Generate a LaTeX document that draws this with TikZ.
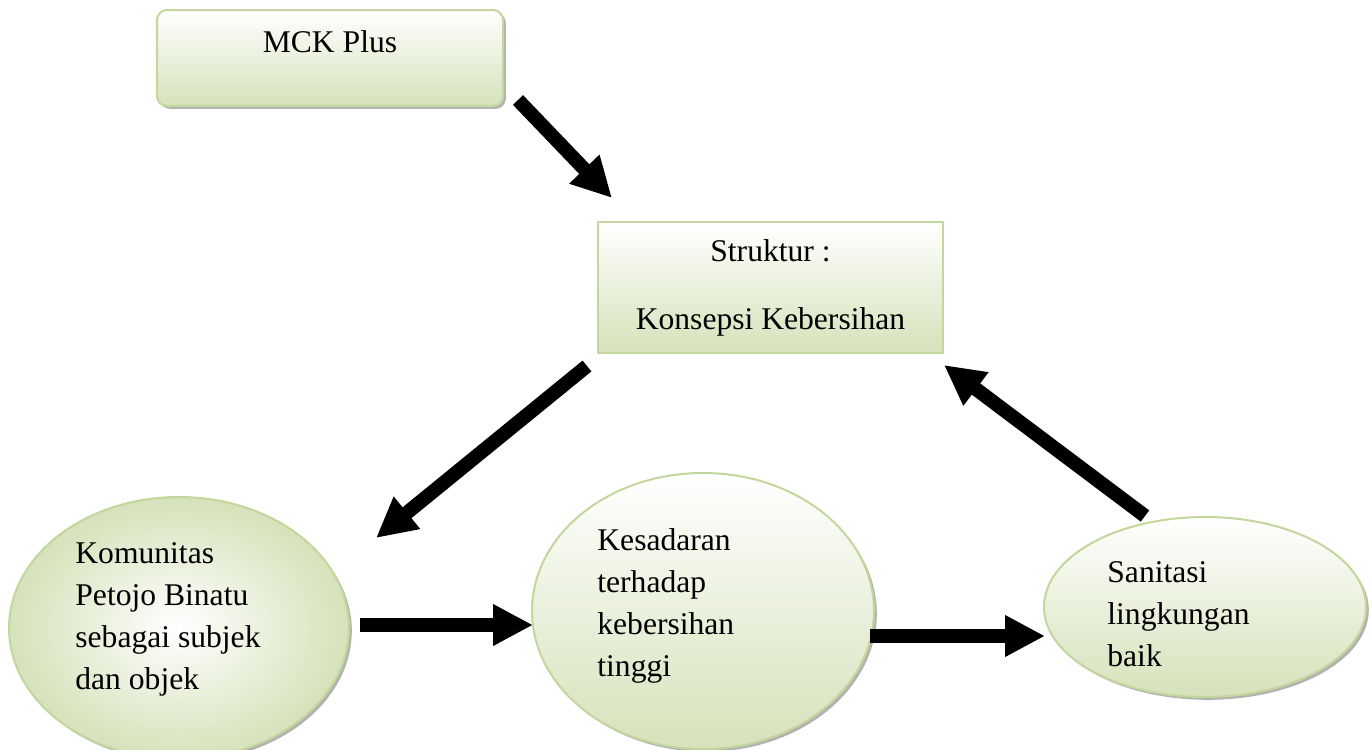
\documentclass[tikz,border=0pt]{standalone}
\usepackage{fontspec}
\setmainfont{Liberation Serif}
\usetikzlibrary{arrows.meta,shapes.geometric,shadows}

\definecolor{leafline}{HTML}{C3D69B}
\definecolor{leaffill}{HTML}{D5E2BA}

\tikzset{
  softshadow/.style={drop shadow={shadow xshift=1.4pt, shadow yshift=-1.4pt, fill=black!55, opacity=0.55}},
  panel/.style={draw=leafline, line width=1pt, top color=white, bottom color=leaffill},
  roundpanel/.style={panel, rounded corners=5pt, softshadow},
  squarepanel/.style={panel, align=center, inner sep=0pt},
  bubble/.style={ellipse, draw=leafline, line width=1pt, inner sep=0pt, softshadow},
  bubbletext/.style={anchor=west, align=left, inner sep=0pt},
  bigarrow/.style={draw=black, line width=7pt, -{Triangle[width=19.5pt,length=20pt]}},
}

\begin{document}
\begin{tikzpicture}[x=0.5pt, y=-0.5pt, font=\fontsize{15.8}{21}\selectfont]
\useasboundingbox (0,0) rectangle (1372,750);

% boxes
\node[roundpanel, minimum width=173pt, minimum height=48pt] (mck) at (330,58) {};
\node (mcklabel) at (330,42) {MCK Plus};

\node[squarepanel, minimum width=172.5pt, minimum height=65.5pt] (struktur) at (770.5,287.5)
  {Struktur :\\[13pt]Konsepsi Kebersihan};

% ellipses
\node[bubble, shading=radial, inner color=white, outer color=leaffill,
      minimum width=170pt, minimum height=131pt] (komunitas) at (179,628) {};
\node[bubbletext] (komunitastext) at (75,619)
  {Komunitas\\Petojo Binatu\\sebagai subjek\\dan objek};

\node[bubble, top color=white, bottom color=leaffill,
      minimum width=171pt, minimum height=138pt] (kesadaran) at (703,611) {};
\node[bubbletext] (kesadarantext) at (597,606)
  {Kesadaran\\terhadap\\kebersihan\\tinggi};

\node[bubble, top color=white, bottom color=leaffill,
      minimum width=161pt, minimum height=90pt] (sanitasi) at (1205,607) {};
\node[bubbletext] (sanitasitext) at (1107,614)
  {Sanitasi\\lingkungan\\baik};

% arrow ends
\coordinate (mckout) at (518,100);
\coordinate (struktin) at (612,198);
\coordinate (struktout) at (587,366);
\coordinate (komin) at (376,538);
\coordinate (komout) at (360,625);
\coordinate (kesin) at (533,625);
\coordinate (kesout) at (870,636);
\coordinate (sanin) at (1045,636);
\coordinate (sanout) at (1145,516);
\coordinate (struktback) at (944,365);

% connectors
\draw[bigarrow] (mckout) -- (struktin);
\draw[bigarrow] (struktout) -- (komin);
\draw[bigarrow] (komout) -- (kesin);
\draw[bigarrow] (kesout) -- (sanin);
\draw[bigarrow] (sanout) -- (struktback);
\end{tikzpicture}
\end{document}
